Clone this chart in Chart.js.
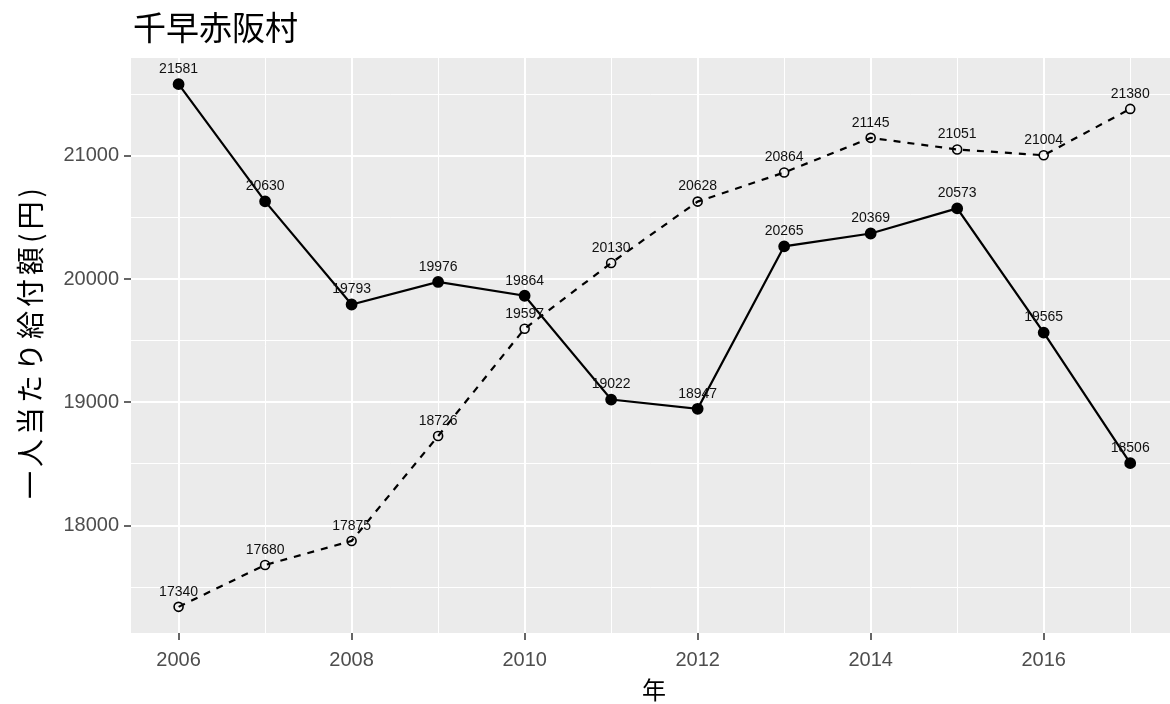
<!DOCTYPE html>
<html>
<head>
<meta charset="utf-8">
<script src="https://cdn.jsdelivr.net/npm/chart.js@4.4.1/dist/chart.umd.min.js"></script>
<style>
  html, body { margin: 0; padding: 0; background: #ffffff; }
  #wrap { width: 1170px; height: 704px; }
</style>
</head>
<body>
<div id="wrap"><canvas id="chart" width="1170" height="704"></canvas></div>
<script>
// データ
const years = [2006, 2007, 2008, 2009, 2010, 2011, 2012, 2013, 2014, 2015, 2016, 2017];
const solidValues = [21581, 20630, 19793, 19976, 19864, 19022, 18947, 20265, 20369, 20573, 19565, 18506];
const dashedValues = [17340, 17680, 17875, 18726, 19597, 20130, 20628, 20864, 21145, 21051, 21004, 21380];

// 目盛り
const xMajorTicks = [2006, 2008, 2010, 2012, 2014, 2016];
const xMinorTicks = [2007, 2009, 2011, 2013, 2015, 2017];
const yMajorTicks = [18000, 19000, 20000, 21000];
const yMinorTicks = [17500, 18500, 19500, 20500, 21500];
const xLimits = [2005.45, 2017.46];
const yLimits = [17128, 21793];

const titleText = '千早赤阪村';
const yTitleText = '一人当たり給付額(円)';
const xTitleText = '年';

const cjkFont = '"Noto Sans CJK JP", "Noto Sans", sans-serif';
const latinFont = '"Liberation Sans", Arial, sans-serif';

function toPoints(values) {
    return years.map((y, i) => ({ x: y, y: values[i] }));
}

function tickList(major, minor) {
    return major.concat(minor).sort((a, b) => a - b).map(v => ({ value: v }));
}

// パネル背景、タイトル、軸タイトル
const panelPlugin = {
    id: 'panel',
    beforeDraw(chart) {
        const { ctx, chartArea: a } = chart;
        ctx.save();
        ctx.fillStyle = '#EBEBEB';
        ctx.fillRect(a.left, a.top, a.right - a.left, a.bottom - a.top);
        ctx.restore();
    },
    afterDraw(chart) {
        const { ctx, chartArea: a } = chart;
        ctx.save();
        ctx.fillStyle = '#000000';
        ctx.font = '33px ' + cjkFont;
        ctx.textAlign = 'left';
        ctx.textBaseline = 'middle';
        ctx.fillText(titleText, 133, 27);

        // 横軸タイトル
        ctx.font = '24px ' + cjkFont;
        ctx.textAlign = 'center';
        ctx.fillText(xTitleText, 654, 690);
        ctx.restore();

        // 縦軸タイトル
        ctx.save();
        ctx.translate(30, (a.top + a.bottom) / 2 - 4);
        ctx.rotate(-Math.PI / 2);
        ctx.fillStyle = '#000000';
        ctx.font = '28px ' + cjkFont;
        if ('letterSpacing' in ctx) ctx.letterSpacing = '4px';
        ctx.textAlign = 'center';
        ctx.textBaseline = 'middle';
        ctx.fillText(yTitleText, 0, 0);
        ctx.restore();
    }
};

// 値ラベル
const labelPlugin = {
    id: 'valueLabels',
    afterDatasetsDraw(chart) {
        const ctx = chart.ctx;
        ctx.save();
        ctx.font = '14px ' + latinFont;
        ctx.fillStyle = '#111111';
        ctx.textAlign = 'center';
        ctx.textBaseline = 'middle';
        chart.data.datasets.forEach((ds, di) => {
            const meta = chart.getDatasetMeta(di);
            meta.data.forEach((pt, i) => {
                ctx.fillText(String(ds.data[i].y), pt.x, pt.y - 15);
            });
        });
        ctx.restore();
    }
};

const ctx = document.getElementById('chart').getContext('2d');
new Chart(ctx, {
    type: 'line',
    data: {
        datasets: [{
            label: 'solid',
            data: toPoints(solidValues),
            borderColor: '#000000',
            backgroundColor: '#000000',
            borderWidth: 2.2,
            pointRadius: 4.8,
            pointBackgroundColor: '#000000',
            pointBorderColor: '#000000',
            tension: 0
        }, {
            label: 'dashed',
            data: toPoints(dashedValues),
            borderColor: '#000000',
            backgroundColor: 'rgba(0,0,0,0)',
            borderWidth: 2.2,
            borderDash: [7, 7],
            pointRadius: 4.5,
            pointBorderWidth: 1.6,
            pointBackgroundColor: 'rgba(0,0,0,0)',
            pointBorderColor: '#000000',
            tension: 0
        }]
    },
    options: {
        responsive: false,
        animation: false,
        layout: { autoPadding: false, padding: { top: 58, right: 0, bottom: 0, left: 0 } },
        plugins: {
            legend: { display: false },
            title: { display: false },
            tooltip: { enabled: false }
        },
        scales: {
            x: {
                type: 'linear',
                min: xLimits[0],
                max: xLimits[1],
                afterBuildTicks: (scale) => { scale.ticks = tickList(xMajorTicks, xMinorTicks); },
                afterFit: (scale) => {
                    scale.height = 71;
                    scale.paddingLeft = 0;
                    scale.paddingRight = 0;
                },
                border: { display: false },
                grid: {
                    color: '#FFFFFF',
                    lineWidth: (c) => xMajorTicks.includes(c.tick && c.tick.value) ? 2 : 1,
                    tickColor: (c) => xMajorTicks.includes(c.tick && c.tick.value) ? '#333333' : 'rgba(0,0,0,0)',
                    tickLength: 7,
                    tickWidth: 1.5
                },
                ticks: {
                    autoSkip: false,
                    maxRotation: 0,
                    padding: 8,
                    color: '#4D4D4D',
                    font: { size: 20, family: latinFont },
                    callback: (v) => xMajorTicks.includes(v) ? String(v) : ''
                },
                title: { display: false }
            },
            y: {
                type: 'linear',
                min: yLimits[0],
                max: yLimits[1],
                afterBuildTicks: (scale) => { scale.ticks = tickList(yMajorTicks, yMinorTicks); },
                afterFit: (scale) => {
                    scale.width = 131;
                    scale.paddingTop = 0;
                    scale.paddingBottom = 0;
                },
                border: { display: false },
                grid: {
                    color: '#FFFFFF',
                    lineWidth: (c) => yMajorTicks.includes(c.tick && c.tick.value) ? 2 : 1,
                    tickColor: (c) => yMajorTicks.includes(c.tick && c.tick.value) ? '#333333' : 'rgba(0,0,0,0)',
                    tickLength: 7,
                    tickWidth: 1.5
                },
                ticks: {
                    autoSkip: false,
                    padding: 5,
                    color: '#4D4D4D',
                    font: { size: 20, family: latinFont },
                    callback: (v) => yMajorTicks.includes(v) ? String(v) : ''
                },
                title: { display: false }
            }
        }
    },
    plugins: [panelPlugin, labelPlugin]
});
</script>
</body>
</html>
